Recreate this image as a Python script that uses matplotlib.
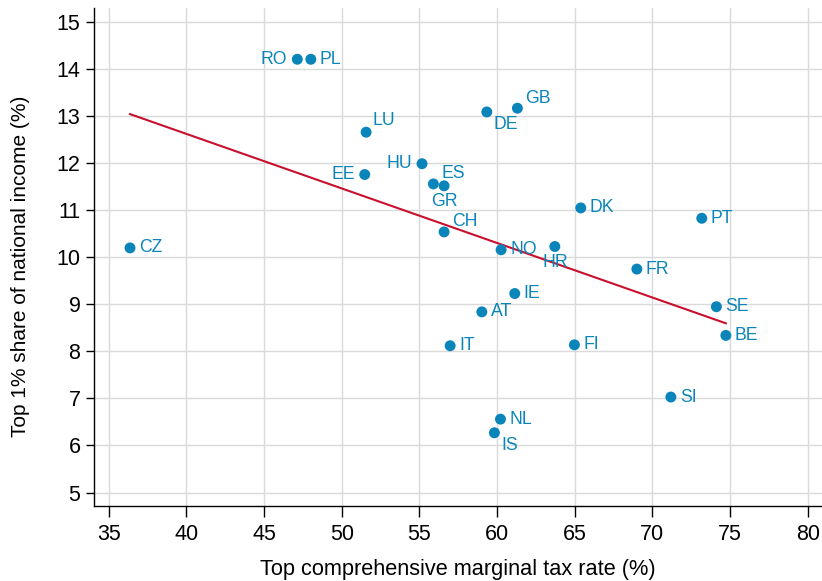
import numpy as np
import matplotlib
matplotlib.use("Agg")
import matplotlib.pyplot as plt

plt.rcParams['font.family'] = ['Liberation Sans', 'DejaVu Sans']

countries = ["RO", "PL", "LU", "HU", "EE", "ES", "GR", "DE", "GB", "DK", "CH", "NO",
             "HR", "PT", "FR", "SE", "BE", "SI", "IE", "AT", "IT", "FI", "NL", "IS", "CZ"]
tax_rate = [47.14, 48.01, 51.57, 55.17, 51.48, 55.90, 56.59, 59.34, 61.31, 65.39, 56.59, 60.26,
            63.72, 73.18, 69.00, 74.12, 74.73, 71.19, 61.14, 59.02, 56.98, 64.98, 60.22, 59.83, 36.37]
top1_share = [14.21, 14.21, 12.66, 11.99, 11.76, 11.56, 11.52, 13.09, 13.17, 11.05, 10.54, 10.16,
              10.23, 10.83, 9.75, 8.95, 8.34, 7.03, 9.23, 8.84, 8.12, 8.14, 6.56, 6.27, 10.20]
# label position (clock-style) per country
label_pos = {"RO": "W", "HU": "W", "EE": "W", "LU": "NE", "GB": "NE", "ES": "NE", "CH": "NE",
             "DE": "SE", "IS": "SE", "GR": "S", "HR": "S"}

x_ticks = [35, 40, 45, 50, 55, 60, 65, 70, 75, 80]
y_ticks = [5, 6, 7, 8, 9, 10, 11, 12, 13, 14, 15]

dot_color = "#0A85B9"
line_color = "#C8102E"

fig = plt.figure(figsize=(8.22, 5.81), dpi=100)
ax = fig.add_axes([94.3 / 822, 1 - 505.7 / 581, (822 - 94.3) / 822, (505.7 - 8) / 581])

ax.set_xlim(34.07, 80.92)
ax.set_ylim(4.72, 15.30)

ax.grid(True, color="#DADADA", linewidth=1.0)
ax.set_axisbelow(True)

x = np.array(tax_rate)
y = np.array(top1_share)
b, a = np.polyfit(x, y, 1)
xs = np.array([x.min(), x.max()])
ax.plot(xs, a + b * xs, color=line_color, linewidth=1.5, zorder=2)

ax.scatter(x, y, s=62, color=dot_color, edgecolors="none", zorder=3)

offsets = {"E": (9, 0, "left", "center"),
           "W": (-10, 0, "right", "center"),
           "NE": (6, 12, "left", "center"),
           "SE": (7, -13, "left", "center"),
           "S": (0, -16, "center", "center")}
for c, xi, yi in zip(countries, tax_rate, top1_share):
    pos = label_pos.get(c, "E")
    dx, dy, ha, va = offsets[pos]
    if pos == "NE" and c in ("ES", "GB", "CH"):
        dx = 8
        dy = 10
    ax.annotate(c, (xi, yi), xytext=(dx, dy), textcoords="offset pixels",
                ha=ha, va=va, fontsize=12.7, color=dot_color, zorder=4)

ax.set_xticks(x_ticks)
ax.set_yticks(y_ticks)
ax.tick_params(axis="x", length=8, width=1, labelsize=15.5, pad=5, colors="black")
ax.tick_params(axis="y", length=6, width=1, labelsize=15.5, pad=4, colors="black")
for side in ("top", "right"):
    ax.spines[side].set_visible(False)
for side in ("left", "bottom"):
    ax.spines[side].set_linewidth(1.0)
    ax.spines[side].set_color("black")

ax.set_xlabel("Top comprehensive marginal tax rate (%)", fontsize=15.7, labelpad=10)
ax.set_ylabel("Top 1% share of national income (%)", fontsize=15)
ax.yaxis.set_label_coords(-0.088, 0.48)

fig.savefig("out.png", dpi=100)
